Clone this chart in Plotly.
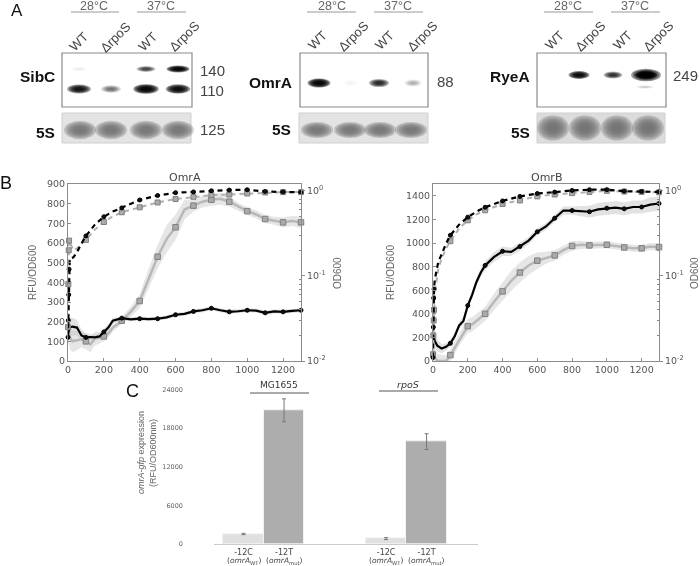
import plotly.graph_objects as go

W, H = 700, 566
SANS = "Liberation Sans"
DJ = "DejaVu Sans"
AXC = "#8c8c8c"
TXT = "#555555"

# ---------- panel B data ----------
X = [0,10,25,50,75,100,125,150,175,200,225,250,275,300,350,400,450,500,550,600,650,700,750,800,850,900,950,1000,1050,1100,1150,1200,1250,1300]
X_OD = [0,2,4,6,10,30,50,75,100,150,200,250,300,400,500,600,700,800,900,1000,1100,1200,1300]

A_WT = [140,170,175,170,130,120,122,120,125,148,170,205,210,218,212,215,213,215,222,235,240,252,258,268,258,250,253,258,256,245,252,250,255,258]
A_MUT = [180,120,100,105,110,100,85,115,118,125,140,170,185,205,250,305,420,530,620,680,770,790,810,820,825,810,785,762,745,722,713,705,712,705]
A_WT_ERR = [60,50,45,40,30,20,15,15,15,15,15,12,12,10,10,10,10,10,10,10,10,10,10,10,10,10,10,10,10,12,10,10,10,10]
A_MUT_ERR = [70,60,55,50,40,40,40,35,30,25,20,20,20,20,25,35,50,60,70,65,50,30,30,30,30,25,20,20,20,20,20,25,25,30]
A_OD_WT = [.019,.03,.06,.12,.16,.165,.19,.24,.295,.40,.496,.57,.63,.78,.88,.95,.97,1.0,1.02,1.03,.98,.97,.96]
A_OD_MUT = [.025,.08,.2,.26,.25,.2,.21,.24,.265,.35,.43,.5,.56,.64,.73,.8,.85,.89,.905,.93,.955,.965,.965]

B_WT = [240,170,130,105,120,150,210,300,340,470,560,670,750,810,880,930,925,970,1020,1095,1140,1210,1275,1275,1270,1265,1285,1295,1300,1290,1305,1305,1325,1335]
B_MUT = [60,30,0,0,0,50,110,180,240,295,310,340,370,400,500,590,680,750,810,850,875,895,940,975,985,980,982,985,975,962,955,955,970,965]
B_WT_ERR = [80,60,50,40,30,30,30,30,30,30,30,30,35,35,40,40,35,35,30,30,30,30,35,35,45,50,55,55,55,55,55,55,60,60]
B_MUT_ERR = [90,80,60,50,50,50,50,50,60,60,60,60,60,60,70,80,85,85,80,70,50,45,40,40,35,30,30,30,30,30,30,30,30,35]
B_OD_WT = [.011,.025,.055,.07,.09,.145,.18,.24,.3,.4,.49,.57,.64,.76,.86,.93,.965,1.01,1.03,1.03,.99,.98,.97]
B_OD_MUT = [.012,.02,.03,.04,.06,.12,.16,.21,.256,.36,.45,.53,.59,.7,.77,.86,.905,.94,.97,1.0,.98,.97,.96]

# ---------- panel C data ----------
C_LABELS = ["-12C", "-12T", "-12C", "-12T"]
C_SUBLABELS = ["(<i>omrA</i><sub>WT</sub>)", "(<i>omrA</i><sub>mut</sub>)", "(<i>omrA</i><sub>WT</sub>)", "(<i>omrA</i><sub>mut</sub>)"]
C_VALUES = [1550, 20740, 830, 15880]
C_ERRORS = [100, 1780, 150, 1220]
C_COLORS = ["#e0e0e0", "#adadad", "#e0e0e0", "#adadad"]

# ---------- panel A data (lane band strengths) ----------
LANE_NAMES = ["WT", "ΔrpoS", "WT", "ΔrpoS"]
SIBC_140 = [0.03, 0.0, 0.45, 1.0]
SIBC_110 = [0.8, 0.28, 1.0, 0.9]
OMRA_88 = [1.0, 0.02, 0.6, 0.13]
RYEA_249 = [0.0, 0.9, 0.55, 1.0]


def px(x):
    return x / W


def py(y):
    return 1 - y / H


shapes, ann = [], []


def text(x, y, s, size=11, color=TXT, font=SANS, anchor="center", angle=0):
    ann.append(dict(x=px(x), y=py(y), xref="paper", yref="paper", text=s, showarrow=False,
                    font=dict(size=size, color=color, family=font), xanchor=anchor,
                    yanchor="middle", textangle=angle))


def rect(x0, y0, x1, y1, fill=None, line=None, lw=1):
    shapes.append(dict(type="rect", xref="paper", yref="paper", x0=px(x0), x1=px(x1), y0=py(y0), y1=py(y1),
                       fillcolor=fill or "rgba(0,0,0,0)", line=dict(color=line or "rgba(0,0,0,0)", width=lw if line else 0)))


def hline(x0, x1, y, color="#999999", lw=1):
    shapes.append(dict(type="line", xref="paper", yref="paper", x0=px(x0), x1=px(x1), y0=py(y), y1=py(y),
                       line=dict(color=color, width=lw)))


def band(cx, cy, rx, ry, strength, color="0,0,0", layers=6, alpha=0.42):
    if strength <= 0:
        return
    for i in range(layers):
        k = 1.15 - 0.75 * i / (layers - 1)
        shapes.append(dict(type="circle", xref="paper", yref="paper", layer="above",
                           x0=px(cx - rx * k), x1=px(cx + rx * k), y0=py(cy - ry * k), y1=py(cy + ry * k),
                           fillcolor=f"rgba({color},{min(1, alpha * strength):.3f})", line=dict(width=0)))


def gel(frame, s_frame, lanes, s_lanes, label_pts, temps, rows, name, name_x, name_y,
        s_x, s_y, sizes, s_tone, s_ry, s_cy):
    rect(*s_frame, fill=s_tone[0], line="#cfcfcf", lw=1)
    for cx in s_lanes:
        band(cx, s_cy, 14, s_ry, 1.0, color=s_tone[1], alpha=0.3)
    rect(*frame, fill="white", line="#8a8a8a", lw=1.2)
    for cy, vals, rx, ry in rows:
        for cx, v in zip(lanes, vals):
            k = 0.72 + 0.28 * v
            band(cx, cy, rx * k, ry * k, v)
    for (x, y), s in zip(label_pts, LANE_NAMES):
        text(x, y, s, size=13, color="#444444", angle=-45)
    for cx, x0, x1, s in temps:
        text(cx, 6, s, size=12.5, color="#666666")
        hline(x0, x1, 12)
    text(name_x, name_y, f"<b>{name}</b>", size=15.5, color="#111111", anchor="right")
    text(s_x, s_y, "<b>5S</b>", size=15.5, color="#111111", anchor="right")
    for x, y, s in sizes:
        text(x, y, s, size=15, color="#444444", anchor="left")


DARK_5S = ("#e3e3e3", "110,110,110")
gel((62, 53, 192, 107), (62, 113, 191, 143), [79, 111, 146, 178], [80, 111, 146, 178],
    [(79, 42), (115, 37), (148, 42), (184, 36)],
    [(94, 71, 119, "28°C"), (161, 137, 186, "37°C")],
    [(69, SIBC_140, 10, 3), (89, SIBC_110, 11, 4.2)], "SibC", 57, 77, 57, 132,
    [(198, 70, "140"), (198, 90, "110"), (198, 130, "125")], DARK_5S, 8, 130)
gel((300, 53, 428, 107), (299, 113, 428, 143), [319, 351, 379, 413], [317, 350, 380, 411],
    [(317, 40), (353, 36), (384, 40), (422, 36)],
    [(332, 307, 356, "28°C"), (398, 374, 423, "37°C")],
    [(83, OMRA_88, 10, 4)], "OmrA", 294, 83, 293, 130,
    [(435, 81, "88")], DARK_5S, 7, 130)
gel((537, 53, 666, 107), (537, 113, 665, 143), [555, 579, 613, 646], [553, 585, 617, 648],
    [(554, 40), (590, 36), (622, 40), (658, 36)],
    [(568, 544, 593, "28°C"), (635, 611, 660, "37°C")],
    [(75, RYEA_249, 9.5, 3.5)], "RyeA", 532, 77, 532, 132,
    [(671, 75, "249")], ("#dcdcdc", "105,105,105"), 11, 128)
band(646, 75, 13, 5.5, 0.9)
band(645, 87, 8, 1.5, 0.08)

text(17, 10, "A", size=17, color="#111111")
text(6, 183, "B", size=18, color="#111111")
text(132, 391, "C", size=18, color="#111111")

fig = go.Figure()


def band_trace(x, y, err, xa, ya, color):
    fig.add_trace(go.Scatter(x=x + x[::-1], y=[a + b for a, b in zip(y, err)] + [max(a - b, 0) for a, b in zip(y, err)][::-1],
                             mode="lines", fill="toself", fillcolor=color, line=dict(width=0),
                             xaxis=xa, yaxis=ya, showlegend=False, hoverinfo="skip"))


def series(x, y, xa, ya, color, width, dash, symbol, size, mfill, mline, rule):
    fig.add_trace(go.Scatter(x=x, y=y, mode="lines", line=dict(color=color, width=width, dash=dash),
                             xaxis=xa, yaxis=ya, showlegend=False))
    idx = [i for i, v in enumerate(x) if rule(v)]
    fig.add_trace(go.Scatter(x=[x[i] for i in idx], y=[y[i] for i in idx], mode="markers", cliponaxis=False,
                             marker=dict(symbol=symbol, size=size, color=mfill, line=dict(color=mline, width=1)),
                             xaxis=xa, yaxis=ya, showlegend=False))


hundreds = lambda v: v % 100 == 0 and v > 0
od_rule = lambda v: v % 100 == 0 or v <= 6

for xa, ya, ya2, wt, mut, we, me, owt, omut in [
    ("x", "y", "y2", A_WT, A_MUT, A_WT_ERR, A_MUT_ERR, A_OD_WT, A_OD_MUT),
    ("x2", "y3", "y4", B_WT, B_MUT, B_WT_ERR, B_MUT_ERR, B_OD_WT, B_OD_MUT),
]:
    band_trace(X, mut, me, xa, ya, "rgba(200,200,200,0.45)")
    band_trace(X, wt, we, xa, ya, "rgba(190,190,190,0.45)")
    series(X, mut, xa, ya, "#b8b8b8", 2.5, "solid", "square", 5.5, "#aaaaaa", "#808080", hundreds)
    series(X, wt, xa, ya, "#000000", 2.2, "solid", "circle", 4, "#111111", "#000000", hundreds)
    series(X_OD, omut, xa, ya2, "#b0b0b0", 2, "5px,4px", "square", 5, "#aaaaaa", "#808080", od_rule)
    series(X_OD, owt, xa, ya2, "#000000", 2.2, "5px,4px", "circle", 4, "#111111", "#000000", od_rule)

# panel C
C_X = [0.73, 1.73, 4.25, 5.25]
fig.add_trace(go.Bar(x=C_X, y=C_VALUES, width=1, marker=dict(color=C_COLORS, line=dict(color="#f2f2f2", width=1)),
                     error_y=dict(type="data", array=C_ERRORS, color="#777777", thickness=1, width=2),
                     xaxis="x3", yaxis="y5", showlegend=False))

tickf = dict(size=9.5, color=TXT, family=DJ)
lx = dict(range=[0, 1300], tickvals=list(range(0, 1400, 200)), ticks="inside", ticklen=3, tickcolor=AXC,
          showgrid=False, zeroline=False, showline=True, linecolor=AXC, mirror=True, tickfont=tickf, automargin=False)
ly = dict(ticks="inside", ticklen=3, tickcolor=AXC, showgrid=False, zeroline=False, showline=True,
          linecolor=AXC, mirror=True, tickfont=tickf, automargin=False)
MINOR = [m * d for d in (0.01, 0.1) for m in (2, 3, 4, 5, 6, 7, 8, 9)]
ry = dict(type="log", range=[-2, 0.08], side="right", tickvals=[0.01, 0.1, 1],
          ticktext=["10<sup>-2</sup>", "10<sup>-1</sup>", "10<sup>0</sup>"], ticks="outside", ticklen=3,
          tickcolor=AXC, showgrid=False, zeroline=False, showline=False, tickfont=tickf, automargin=False,
          minor=dict(tickvals=MINOR, ticks="inside", ticklen=2, tickcolor=AXC))

dy = [py(361), py(184)]
fig.update_layout(
    width=W, height=H, margin=dict(l=0, r=0, t=0, b=0, autoexpand=False), paper_bgcolor="white", plot_bgcolor="white",
    showlegend=False, bargap=0,
    xaxis=dict(domain=[px(68), px(301)], anchor="y", **lx),
    yaxis=dict(domain=dy, range=[0, 900], tickvals=list(range(0, 1000, 100)), anchor="x", **ly),
    yaxis2=dict(domain=dy, overlaying="y", anchor="x", **ry),
    xaxis2=dict(domain=[px(433), px(659)], anchor="y3", **lx),
    yaxis3=dict(domain=dy, range=[0, 1500], tickvals=list(range(0, 1600, 200)), anchor="x2", **ly),
    yaxis4=dict(domain=dy, overlaying="y3", anchor="x2", **ry),
    xaxis3=dict(domain=[px(214), px(478)], range=[0, 6.52], anchor="y5", tickvals=C_X, ticktext=C_LABELS,
                ticks="", showgrid=False, zeroline=False, showline=True, linecolor="#cccccc", automargin=False,
                tickfont=dict(size=8, color="#444444", family=DJ), tickangle=0),
    yaxis5=dict(domain=[py(544), py(389.3)], range=[0, 24000], tickvals=[0, 6000, 12000, 18000, 24000], anchor="x3",
                tickformat="d", showgrid=False, zeroline=False, showline=False, ticks="", ticklabelstandoff=30, automargin=False,
                tickfont=dict(size=6.5, color="#666666", family=DJ)),
)

for cx, s in zip([243.5, 284, 386, 426.5], C_SUBLABELS):
    text(cx, 561, s, size=7.5, font=DJ, color="#444444")

text(185, 177, "OmrA", size=11, font=DJ, color="#444444")
text(546, 177, "OmrB", size=11, font=DJ, color="#444444")
text(32, 273, "RFU/OD600", size=10, color="#666666", angle=-90)
text(390, 273, "RFU/OD600", size=10, color="#666666", angle=-90)
text(337, 273, "OD600", size=10, color="#666666", angle=-90)
text(694, 273, "OD600", size=10, color="#666666", angle=-90)
text(141, 453, "<i>omrA-gfp</i> expression", size=9, color="#666666", angle=-90)
text(153, 453, "(RFU/OD600nm)", size=9, color="#666666", angle=-90)
text(279, 385, "MG1655", size=9, font=DJ, color="#333333")
text(408, 385, "<i>rpoS</i>", size=9.5, font=DJ, color="#333333")
hline(250, 309, 393, color="#555555")
hline(379, 438, 391, color="#555555")

fig.update_layout(annotations=ann, shapes=shapes)
fig.write_html("out.html", config={"displayModeBar": False},
               post_script="document.body.style.margin='0';document.body.style.overflow='hidden';document.body.style.filter='blur(0.45px)';")
